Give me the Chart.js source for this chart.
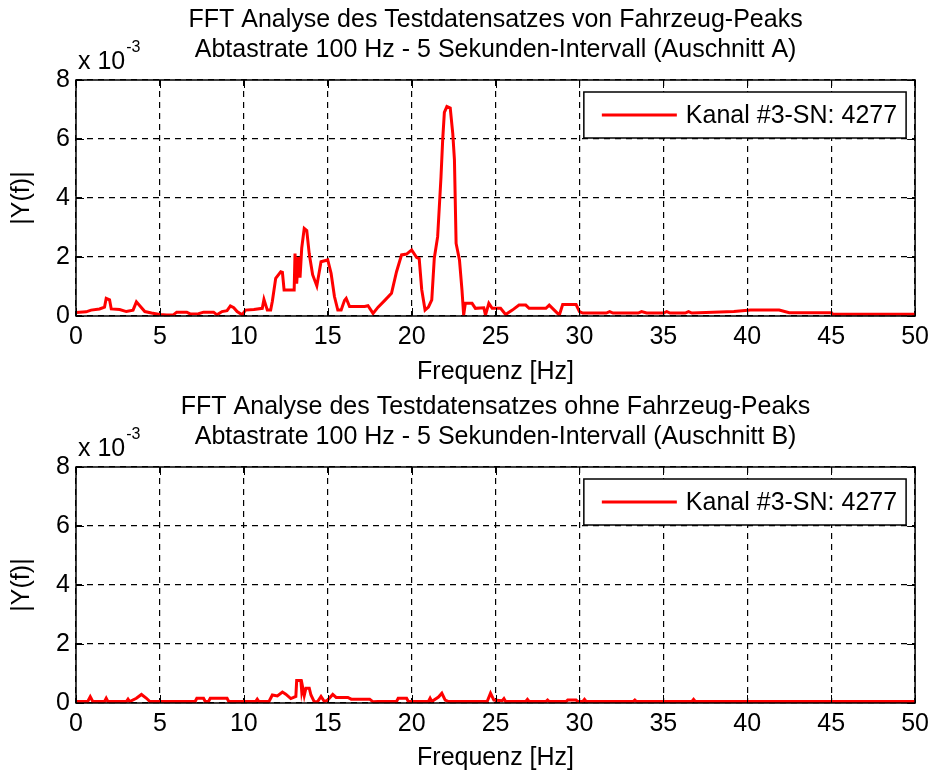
<!DOCTYPE html>
<html>
<head>
<meta charset="utf-8">
<script src="https://cdn.jsdelivr.net/npm/chart.js@4.4.0/dist/chart.umd.min.js"></script>
<style>
html, body { margin: 0; padding: 0; background: #fff; }
#wrap { position: relative; width: 935px; height: 773px; }
canvas { position: absolute; left: 0; }
#fftA { top: 0; }
#fftB { top: 387px; }
</style>
</head>
<body>
<div id="wrap">
  <canvas id="fftA" width="935" height="387"></canvas>
  <canvas id="fftB" width="935" height="386"></canvas>
</div>
<script>
// texts
let titleA = ["FFT Analyse des Testdatensatzes von Fahrzeug-Peaks", "Abtastrate 100 Hz - 5 Sekunden-Intervall (Auschnitt A)"];
let titleB = ["FFT Analyse des Testdatensatzes ohne Fahrzeug-Peaks", "Abtastrate 100 Hz - 5 Sekunden-Intervall (Auschnitt B)"];
let xLabel = "Frequenz [Hz]";
let yLabel = "|Y(f)|";
let seriesLabel = "Kanal #3-SN: 4277";

// Auschnitt A, frequency [Hz] and |Y(f)| in 1e-3
let freqA = [0, 0.6, 0.9, 1.4, 1.7, 1.8, 2.0, 2.1, 2.6, 3.0, 3.4, 3.6, 3.8, 4.1, 4.5, 5.0, 5.4, 5.8, 6.0, 6.6,
  6.8, 7.3, 7.6, 8.2, 8.4, 8.7, 9.0, 9.2, 9.4, 9.6, 9.9, 10.1, 10.6, 11.1, 11.2, 11.4, 11.6, 11.7, 11.9, 12.2,
  12.3, 12.4, 13.0, 13.05, 13.15, 13.25, 13.35, 13.45, 13.6, 13.75, 13.9, 14.1, 14.35, 14.6, 15.0, 15.2, 15.4, 15.6, 15.8, 16.0,
  16.1, 16.3, 17.2, 17.4, 17.7, 18.0, 18.4, 18.8, 19.1, 19.4, 19.7, 20.0, 20.3, 20.45, 20.6, 20.8, 21.0, 21.2, 21.35, 21.55,
  21.75, 21.85, 21.95, 22.1, 22.3, 22.45, 22.55, 22.65, 22.85, 23.0, 23.1, 23.2, 23.6, 23.8, 24.3, 24.4, 24.6, 24.8, 25.3, 25.6,
  26.0, 26.4, 26.8, 27.0, 28.0, 28.2, 28.5, 28.8, 29.0, 29.8, 30.0, 30.2, 31.6, 31.8, 32.0, 33.5, 33.7, 34.0, 35.0, 35.2,
  35.4, 36.3, 36.5, 36.7, 39.2, 40.2, 41.9, 42.5, 45.0, 45.1, 50.0];
let ampA = [0.12, 0.14, 0.2, 0.24, 0.3, 0.6, 0.55, 0.24, 0.22, 0.15, 0.2, 0.48, 0.35, 0.15, 0.1, 0.05, 0.03, 0.04, 0.13, 0.13,
  0.07, 0.08, 0.13, 0.13, 0.04, 0.15, 0.18, 0.34, 0.28, 0.15, 0.04, 0.2, 0.22, 0.26, 0.56, 0.2, 0.2, 0.5, 1.28, 1.5,
  1.48, 0.88, 0.88, 2.12, 1.1, 2.0, 1.3, 2.3, 2.97, 2.9, 2.1, 1.4, 1.02, 1.84, 1.9, 1.45, 0.66, 0.2, 0.2, 0.53,
  0.6, 0.32, 0.32, 0.35, 0.09, 0.3, 0.53, 0.77, 1.5, 2.07, 2.1, 2.24, 1.98, 1.95, 0.9, 0.2, 0.3, 0.55, 1.96, 2.69,
  4.72, 5.97, 6.9, 7.1, 7.05, 6.19, 5.3, 2.46, 1.9, 0.88, 0.03, 0.43, 0.43, 0.26, 0.28, 0.03, 0.43, 0.26, 0.26, 0.05,
  0.2, 0.37, 0.37, 0.26, 0.26, 0.37, 0.2, 0.03, 0.39, 0.39, 0.15, 0.1, 0.1, 0.15, 0.1, 0.1, 0.15, 0.1, 0.1, 0.15,
  0.1, 0.1, 0.15, 0.1, 0.15, 0.2, 0.2, 0.11, 0.11, 0.06, 0.06];

// Auschnitt B
let freqB = [0, 0.7, 0.85, 1.0, 1.7, 1.8, 1.9, 3.0, 3.1, 3.2, 3.6, 3.9, 4.2, 4.4, 7.1, 7.2, 7.6, 7.7, 7.9, 8.0,
  9.0, 9.1, 10.7, 10.8, 10.9, 11.5, 11.7, 12.0, 12.3, 12.5, 12.8, 13.1, 13.15, 13.4, 13.45, 13.5, 13.6, 13.7, 13.9, 14.0,
  14.2, 14.4, 14.6, 14.8, 15.0, 15.3, 15.5, 16.2, 16.4, 17.5, 17.7, 18.0, 19.1, 19.2, 19.7, 19.8, 21.0, 21.1, 21.2, 21.6,
  21.8, 22.0, 22.2, 24.5, 24.7, 24.9, 25.4, 25.5, 25.6, 26.8, 26.9, 27.0, 28.0, 28.1, 28.2, 29.2, 29.3, 29.8, 29.9, 30.2,
  30.3, 30.4, 33.2, 33.3, 33.4, 36.7, 36.8, 36.9, 50.0];
let ampB = [0.05, 0.05, 0.21, 0.05, 0.05, 0.16, 0.05, 0.05, 0.13, 0.05, 0.16, 0.29, 0.16, 0.05, 0.05, 0.16, 0.16, 0.05, 0.05, 0.16,
  0.16, 0.05, 0.05, 0.13, 0.05, 0.05, 0.27, 0.24, 0.37, 0.3, 0.15, 0.22, 0.76, 0.76, 0.4, 0.55, 0.25, 0.5, 0.5, 0.27,
  0.04, 0.05, 0.22, 0.05, 0.1, 0.29, 0.19, 0.19, 0.13, 0.13, 0.04, 0.05, 0.05, 0.16, 0.16, 0.05, 0.05, 0.16, 0.05, 0.2,
  0.33, 0.1, 0.05, 0.05, 0.33, 0.1, 0.08, 0.15, 0.05, 0.05, 0.12, 0.05, 0.05, 0.1, 0.05, 0.05, 0.1, 0.1, 0.05, 0.05,
  0.12, 0.05, 0.05, 0.1, 0.05, 0.05, 0.12, 0.05, 0.05];

const fontFamily = '"Liberation Sans", Arial, sans-serif';
const txtFont = { family: fontFamily, size: 25, weight: 'normal', lineHeight: 1.2 };

// matlab style box, inner ticks, exponent and legend
const matlabFrame = {
  id: 'matlabFrame',
  afterDraw(chart) {
    const { ctx, chartArea: ca, scales } = chart;
    ctx.save();
    ctx.strokeStyle = '#000';
    ctx.lineWidth = 1;
    ctx.setLineDash([]);
    ctx.beginPath();
    scales.x.ticks.forEach(t => {
      const px = Math.round(scales.x.getPixelForValue(t.value)) + 0.5;
      ctx.moveTo(px, ca.bottom); ctx.lineTo(px, ca.bottom - 8);
      ctx.moveTo(px, ca.top); ctx.lineTo(px, ca.top + 8);
    });
    scales.y.ticks.forEach(t => {
      const py = Math.round(scales.y.getPixelForValue(t.value)) + 0.5;
      ctx.moveTo(ca.left, py); ctx.lineTo(ca.left + 8, py);
      ctx.moveTo(ca.right, py); ctx.lineTo(ca.right - 8, py);
    });
    ctx.stroke();
    ctx.lineWidth = 1.5;
    ctx.strokeRect(ca.left, ca.top, ca.width, ca.height);

    // exponent label
    ctx.fillStyle = '#000';
    ctx.textAlign = 'left';
    ctx.textBaseline = 'alphabetic';
    ctx.font = '25px ' + fontFamily;
    ctx.fillText('x 10', ca.left + 2, ca.top - 11);
    const w = ctx.measureText('x 10').width;
    ctx.font = '16px ' + fontFamily;
    ctx.fillText('-3', ca.left + 3 + w, ca.top - 28);

    // legend
    const ds = chart.data.datasets[0];
    ctx.font = '25px ' + fontFamily;
    const tw = ctx.measureText(ds.label).width;
    const boxW = 18 + 75 + 10 + tw + 8;
    const boxH = 46;
    const bx = ca.right - 9 - boxW;
    const by = ca.top + 12;
    ctx.fillStyle = '#fff';
    ctx.fillRect(bx, by, boxW, boxH);
    ctx.lineWidth = 1.5;
    ctx.strokeRect(bx, by, boxW, boxH);
    ctx.strokeStyle = ds.borderColor;
    ctx.lineWidth = 3;
    ctx.beginPath();
    ctx.moveTo(bx + 18, by + boxH / 2);
    ctx.lineTo(bx + 93, by + boxH / 2);
    ctx.stroke();
    ctx.fillStyle = '#000';
    ctx.textBaseline = 'middle';
    ctx.fillText(ds.label, bx + 102, by + boxH / 2 + 1);
    ctx.restore();
  }
};

function makeChart(id, titleLines, freq, amp) {
  const canvas = document.getElementById(id);
  return new Chart(canvas, {
    type: 'line',
    data: {
      datasets: [{
        label: seriesLabel,
        data: freq.map((f, i) => ({ x: f, y: amp[i] })),
        borderColor: '#ff0000',
        borderWidth: 3,
        pointRadius: 0,
        tension: 0,
        fill: false
      }]
    },
    options: {
      responsive: false,
      animation: false,
      devicePixelRatio: 1,
      layout: { padding: { left: 0, right: 18, top: 0, bottom: 0 } },
      plugins: {
        legend: { display: false },
        tooltip: { enabled: false },
        title: {
          display: true,
          text: titleLines,
          fullSize: false,
          color: '#000',
          font: txtFont,
          padding: { top: 5, bottom: 15 }
        }
      },
      scales: {
        x: {
          type: 'linear',
          min: 0,
          max: 50,
          afterFit: s => { s.height = canvas.height - 316; },
          ticks: { stepSize: 5, color: '#000', font: txtFont, padding: 6, maxRotation: 0, autoSkip: false },
          grid: { color: '#000', lineWidth: 1.2, drawTicks: false },
          border: { display: false, dash: [6, 5] },
          title: { display: true, text: xLabel, color: '#000', font: txtFont, padding: 0 }
        },
        y: {
          min: 0,
          max: 8,
          afterFit: s => { s.width = 76; },
          ticks: { stepSize: 2, color: '#000', font: txtFont, padding: 6 },
          grid: { color: '#000', lineWidth: 1.2, drawTicks: false },
          border: { display: false, dash: [6, 5] },
          title: { display: true, text: yLabel, color: '#000', font: txtFont, padding: 7 }
        }
      }
    },
    plugins: [matlabFrame]
  });
}

makeChart('fftA', titleA, freqA, ampA);
makeChart('fftB', titleB, freqB, ampB);
</script>
</body>
</html>
